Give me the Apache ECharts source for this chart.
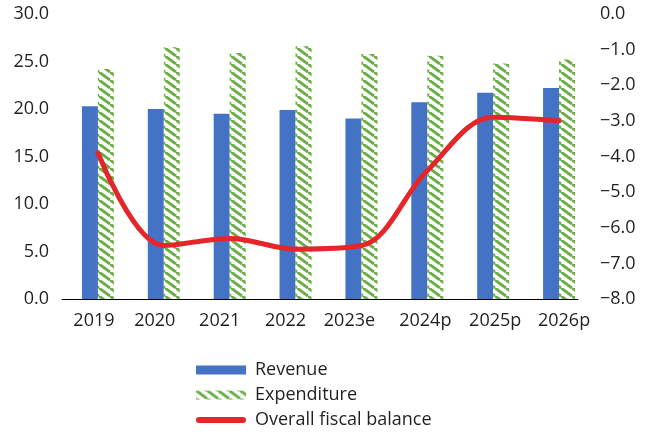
<!DOCTYPE html>
<html><head><meta charset="utf-8">
<script src="https://cdn.jsdelivr.net/npm/echarts@6/dist/echarts.min.js"></script>
<style>html,body{margin:0;padding:0;background:#fff}#c{width:646px;height:435px}</style>
</head><body><div id="c"></div>
<script>
var categories = ['2019','2020','2021','2022','2023e','2024p','2025p','2026p'];
var revenue = [20.3, 20.0, 19.5, 19.9, 19.0, 20.7, 21.7, 22.2];
var expenditure = [24.2, 26.5, 25.9, 26.6, 25.8, 25.6, 24.8, 25.2];
var fiscalBalance = [-3.9, -6.5, -6.3, -6.6, -6.5, -4.4, -2.9, -3.0];
var leftTicks = {min: 0, max: 30, interval: 5};
var rightTicks = {min: -8, max: 0, interval: 1};

// label placement nudges (px, relative to category centre) - layout only
var labelShift = [-4, -9, -10, -10, -12, -2, 2, 5];

function stripePattern() {
  var W = 11, H = 8;
  var cv = document.createElement('canvas');
  cv.width = W; cv.height = H;
  var ctx = cv.getContext('2d');
  ctx.fillStyle = '#ffffff';
  ctx.fillRect(0, 0, W, H);
  ctx.strokeStyle = '#6aae45';
  ctx.lineWidth = 3;
  [[0,0,W,H],[-W,0,0,H],[0,-H,W,0]].forEach(function(s){
    ctx.beginPath(); ctx.moveTo(s[0], s[1]); ctx.lineTo(s[2], s[3]); ctx.stroke();
  });
  return {image: cv, repeat: 'repeat'};
}

var font = '"Open Sans", sans-serif';
var txt = '#231f20';
var catItems = categories.map(function(c, i){
  var s = labelShift[i];
  return {value: c, textStyle: {padding: s < 0 ? [0, -2*s, 0, 0] : [0, 0, 0, 2*s]}};
});
var lineIcon = 'path://M0,0h50v0.001h-50z M3,1.5h44a3,3 0 0 1 0,6h-44a3,3 0 0 1 0,-6z M0,8.999h50v0.001h-50z';

var chart = echarts.init(document.getElementById('c'), null, {renderer: 'canvas'});
chart.setOption({
  animation: false,
  grid: [
    {left: 65, right: 54, top: 14, bottom: 136},
    {left: 62, right: 68, top: 14, bottom: 136}
  ],
  legend: {
    orient: 'vertical', left: 196, top: 361, height: 100, padding: 0,
    itemWidth: 50, itemHeight: 9, itemGap: 7,
    textStyle: {fontFamily: font, fontSize: 18, color: txt, padding: [0,0,0,4]},
    data: [
      {name: 'Revenue', icon: 'rect'},
      {name: 'Expenditure', icon: 'rect'},
      {name: 'Overall fiscal balance', icon: lineIcon}
    ]
  },
  xAxis: [
    {type: 'category', gridIndex: 0, data: catItems,
     axisLine: {show: false}, axisTick: {show: false},
     axisLabel: {interval: 0, hideOverlap: false, fontFamily: font, fontSize: 18, color: txt, margin: 13}},
    {type: 'category', gridIndex: 1, data: [''],
     axisLine: {lineStyle: {color: '#000', width: 1}},
     axisTick: {show: false}, axisLabel: {show: false}}
  ],
  yAxis: [
    {type: 'value', gridIndex: 0, min: leftTicks.min, max: leftTicks.max, interval: leftTicks.interval,
     splitLine: {show: false}, axisLine: {show: false}, axisTick: {show: false},
     axisLabel: {fontFamily: font, fontSize: 18, color: txt, margin: 16,
       formatter: function(v){ return v.toFixed(1); }}},
    {type: 'value', gridIndex: 0, min: rightTicks.min, max: rightTicks.max, interval: rightTicks.interval,
     position: 'right',
     splitLine: {show: false}, axisLine: {show: false}, axisTick: {show: false},
     axisLabel: {fontFamily: font, fontSize: 18, color: txt, margin: 8,
       formatter: function(v){ return (v < 0 ? '\u2212' + Math.abs(v).toFixed(1) : v.toFixed(1)); }}},
    {type: 'value', gridIndex: 1, show: false}
  ],
  series: [
    {name: 'Revenue', type: 'bar', data: revenue, barWidth: 16, barGap: '0%',
     itemStyle: {color: '#4472c4'}},
    {name: 'Expenditure', type: 'bar', data: expenditure, barWidth: 16,
     itemStyle: {color: stripePattern()}},
    {name: 'Overall fiscal balance', type: 'line', yAxisIndex: 1, data: fiscalBalance,
     smooth: 0.35, symbol: 'none', lineStyle: {color: '#e4262a', width: 5, cap: 'round'},
     itemStyle: {color: '#e4262a'}}
  ]
});
</script></body></html>
